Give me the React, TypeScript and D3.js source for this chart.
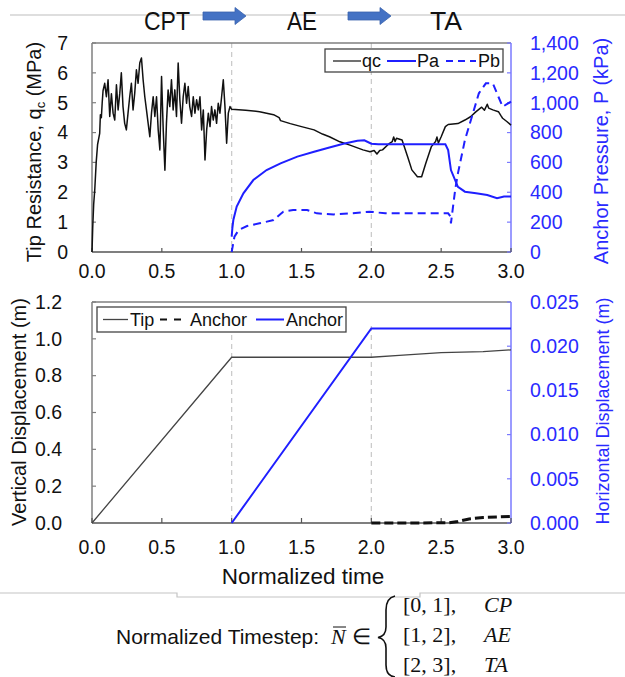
import React from "react";
import * as d3 from "d3";

// ---------- DATA ----------
const qcSeries: [number, number][] = [
  [0, 0], [0.005, 0.8], [0.012, 1.6], [0.02, 2.1], [0.03, 3.0], [0.04, 3.6], [0.055, 3.97], [0.06, 4.6],
  [0.067, 4.5], [0.073, 5.0], [0.079, 5.4], [0.091, 5.65], [0.103, 5.2], [0.115, 5.77], [0.127, 4.54],
  [0.139, 5.3], [0.151, 4.65], [0.163, 4.42], [0.175, 5.6], [0.187, 4.76], [0.199, 5.32], [0.21, 6.0],
  [0.222, 4.87], [0.234, 4.31], [0.246, 4.09], [0.258, 4.65], [0.27, 5.2], [0.282, 5.65], [0.294, 4.76],
  [0.306, 5.32], [0.318, 6.1], [0.33, 5.65], [0.342, 6.33], [0.354, 6.5], [0.366, 5.77], [0.378, 5.2],
  [0.39, 4.76], [0.402, 4.31], [0.414, 3.86], [0.426, 4.65], [0.438, 5.2], [0.45, 4.54], [0.462, 5.2],
  [0.474, 4.09], [0.486, 3.42], [0.498, 5.88], [0.51, 4.09], [0.522, 2.74], [0.533, 4.31], [0.545, 5.43],
  [0.557, 4.87], [0.569, 5.77], [0.581, 4.76], [0.593, 5.43], [0.605, 4.54], [0.617, 6.33], [0.629, 5.1],
  [0.641, 4.31], [0.653, 5.2], [0.665, 5.65], [0.677, 4.98], [0.689, 5.54], [0.7, 4.87], [0.713, 4.54],
  [0.725, 5.2], [0.737, 4.65], [0.749, 5.1], [0.761, 4.76], [0.773, 5.2], [0.785, 4.09], [0.797, 4.76],
  [0.809, 3.08], [0.821, 4.09], [0.833, 4.65], [0.845, 4.2], [0.856, 4.87], [0.868, 4.42], [0.88, 4.76],
  [0.892, 4.31], [0.904, 4.98], [0.916, 4.65], [0.928, 5.2], [0.94, 5.77], [0.952, 4.87], [0.964, 3.64],
  [0.976, 4.65], [0.988, 4.87], [1.0, 4.78], [1.1, 4.75], [1.2, 4.7], [1.3, 4.6], [1.34, 4.5], [1.35, 4.4],
  [1.42, 4.3], [1.5, 4.2], [1.59, 4.09], [1.65, 3.95], [1.7, 3.86], [1.775, 3.69], [1.847, 3.58],
  [1.94, 3.42], [1.99, 3.36], [2.02, 3.4], [2.04, 3.28], [2.06, 3.4], [2.08, 3.42], [2.13, 3.64],
  [2.15, 3.7], [2.16, 3.85], [2.17, 3.7], [2.18, 3.81], [2.22, 3.75], [2.26, 3.19], [2.29, 2.75],
  [2.33, 2.52], [2.36, 2.52], [2.39, 2.97], [2.43, 3.53], [2.46, 3.7], [2.47, 3.85], [2.48, 3.65],
  [2.5, 3.86], [2.53, 4.2], [2.55, 4.27], [2.62, 4.3], [2.67, 4.42], [2.71, 4.53], [2.75, 4.7],
  [2.79, 4.85], [2.81, 4.75], [2.83, 4.95], [2.84, 4.82], [2.87, 4.76], [2.91, 4.7], [2.93, 4.55],
  [2.94, 4.48], [2.97, 4.37], [3.0, 4.25],
];

const paSeries: [number, number][] = [
  [1.0, 103], [1.005, 160], [1.012, 214], [1.036, 304], [1.084, 393], [1.155, 482], [1.25, 549],
  [1.35, 594], [1.47, 639], [1.59, 672], [1.7, 700], [1.8, 725], [1.9, 745], [1.95, 748], [2.0, 725],
  [2.05, 721], [2.53, 721], [2.55, 683], [2.57, 549], [2.6, 482], [2.62, 437], [2.67, 404], [2.75, 393],
  [2.83, 382], [2.9, 360], [2.95, 371], [3.0, 371],
];

const pbSeries: [number, number][] = [
  [1.0, 0], [1.02, 103], [1.05, 147], [1.11, 174], [1.2, 192], [1.3, 214], [1.35, 255], [1.37, 270],
  [1.44, 281], [1.54, 281], [1.61, 259], [1.73, 252], [1.85, 259], [1.99, 270], [2.1, 259], [2.55, 259],
  [2.565, 240], [2.57, 192], [2.6, 415], [2.62, 527], [2.67, 750], [2.72, 906], [2.77, 1063],
  [2.82, 1130], [2.87, 1130], [2.91, 1040], [2.94, 973], [2.97, 990], [3.0, 1007],
];

const tipVertical: [number, number][] = [
  [0, 0], [1, 0.9], [2, 0.9], [2.2, 0.91], [2.5, 0.925], [2.8, 0.93], [3, 0.94],
];
const anchorVertical: [number, number][] = [
  [2, 0], [2.55, 0.001], [2.62, 0.008], [2.7, 0.022], [2.8, 0.03], [3, 0.036],
];
const anchorHorizontal: [number, number][] = [[1, 0], [2, 0.022], [3, 0.022]];

const xTicks = [0, 0.5, 1, 1.5, 2, 2.5, 3];
const qcTicks = [0, 1, 2, 3, 4, 5, 6, 7];
const pTicks = [0, 200, 400, 600, 800, 1000, 1200, 1400];
const vTicks = [0, 0.2, 0.4, 0.6, 0.8, 1.0, 1.2];
const hTicks = [0, 0.005, 0.01, 0.015, 0.02, 0.025];
const phaseMarks = [1, 2];
const stages = ["CPT", "AE", "TA"];
const timestepRows = [
  ["[0, 1],", "CP"],
  ["[1, 2],", "AE"],
  ["[2, 3],", "TA"],
];

// ---------- STYLE ----------
const SANS = "'Liberation Sans', Arial, sans-serif";
const SERIF = "'Liberation Serif', 'Times New Roman', serif";
const BLUE = "#1f1fff";
const BLUE_TXT = "#2a2aff";
const BLUE_AXIS = "#7a7aff";
const FRAME = "#7f7f7f";

export default function App() {
  const L = 92, R = 511;
  const x = d3.scaleLinear().domain([0, 3]).range([L, R]);

  // top panel
  const T1 = 43, B1 = 252;
  const yQc = d3.scaleLinear().domain([0, 7]).range([B1, T1]);
  const yP = d3.scaleLinear().domain([0, 1400]).range([B1, T1]);
  // bottom panel
  const T2 = 302, B2 = 523;
  const yV = d3.scaleLinear().domain([0, 1.2]).range([B2, T2]);
  const yH = d3.scaleLinear().domain([0, 0.025]).range([B2, T2]);

  const lineQc = d3.line<[number, number]>().x((d) => x(d[0])).y((d) => yQc(d[1]));
  const lineP = d3.line<[number, number]>().x((d) => x(d[0])).y((d) => yP(d[1]));
  const lineV = d3.line<[number, number]>().x((d) => x(d[0])).y((d) => yV(d[1]));
  const lineH = d3.line<[number, number]>().x((d) => x(d[0])).y((d) => yH(d[1]));

  const fmt1 = d3.format(".1f");
  const fmtC = d3.format(",");
  const fmt3 = d3.format(".3f");

  const stageX = [167, 302, 446];
  const stageW = [46, 30, 32];
  const arrows = [[203, 246], [348, 391]];
  const arrowPath = (x0: number, x1: number, cy: number) => {
    const bh = 4, hh = 8.5, hl = 11;
    return `M${x0},${cy - bh}L${x1 - hl},${cy - bh}L${x1 - hl},${cy - hh}L${x1},${cy}L${x1 - hl},${cy + hh}L${x1 - hl},${cy + bh}L${x0},${cy + bh}Z`;
  };

  return (
    <svg width={625} height={677} style={{ position: "absolute", left: 0, top: 0, background: "#fff" }}>
      <rect x={0} y={0} width={625} height={677} fill="#fff" />

      {/* header */}
      <line x1={10} x2={625} y1={15} y2={15} stroke="#bdbdbd" strokeWidth={1.2} />
      {stages.map((s, i) => (
        <text key={s} x={stageX[i]} y={30} textAnchor="middle" fontFamily={SANS} fontSize={26}
          fill="#111" textLength={stageW[i]} lengthAdjust="spacingAndGlyphs">{s}</text>
      ))}
      {arrows.map(([a, b], i) => (
        <path key={i} d={arrowPath(a, b, 16)} fill="#4472c4" stroke="#3a63ad" strokeWidth={0.8} />
      ))}

      {/* ===== TOP PANEL ===== */}
      {phaseMarks.map((m) => (
        <line key={"p1" + m} x1={x(m)} x2={x(m)} y1={T1} y2={B1} stroke="#c8c8c8" strokeWidth={1.2} strokeDasharray="5,4" />
      ))}
      <line x1={L} x2={R} y1={T1} y2={T1} stroke={FRAME} strokeWidth={1.5} />
      <line x1={L} x2={L} y1={T1} y2={B1} stroke={FRAME} strokeWidth={1.5} />
      <line x1={L} x2={R} y1={B1} y2={B1} stroke="#555" strokeWidth={1.5} />
      <line x1={R} x2={R} y1={T1} y2={B1} stroke={BLUE_AXIS} strokeWidth={1.5} />
      {qcTicks.map((t) => (
        <g key={"qc" + t}>
          <line x1={L} x2={L + 4} y1={yQc(t)} y2={yQc(t)} stroke={FRAME} strokeWidth={1.2} />
          <text x={68} y={yQc(t)} dy="0.35em" textAnchor="end" fontFamily={SANS} fontSize={19.5} fill="#111">{t}</text>
        </g>
      ))}
      {pTicks.map((t) => (
        <g key={"p" + t}>
          <line x1={R - 4} x2={R} y1={yP(t)} y2={yP(t)} stroke={BLUE_AXIS} strokeWidth={1.2} />
          <text x={530} y={yP(t)} dy="0.35em" textAnchor="start" fontFamily={SANS} fontSize={19.5} fill={BLUE_TXT}>{fmtC(t)}</text>
        </g>
      ))}
      {xTicks.map((t) => (
        <g key={"x1" + t}>
          <line x1={x(t)} x2={x(t)} y1={B1} y2={B1 - 4} stroke="#555" strokeWidth={1.2} />
          <text x={x(t)} y={278} textAnchor="middle" fontFamily={SANS} fontSize={19.5} fill="#111">{fmt1(t)}</text>
        </g>
      ))}
      <path d={lineQc(qcSeries) || ""} fill="none" stroke="#111" strokeWidth={1.5} strokeLinejoin="round" />
      <path d={lineP(paSeries) || ""} fill="none" stroke={BLUE} strokeWidth={2} />
      <path d={lineP(pbSeries) || ""} fill="none" stroke={BLUE} strokeWidth={2} strokeDasharray="8,5" />

      {/* top legend */}
      <rect x={325} y={49} width={178} height={23} fill="#fff" stroke="#444" strokeWidth={1.3} />
      <line x1={333} x2={361} y1={61} y2={61} stroke="#111" strokeWidth={1.2} />
      <text x={362} y={67} fontFamily={SANS} fontSize={18} fill="#111">qc</text>
      <line x1={387} x2={416} y1={61} y2={61} stroke={BLUE} strokeWidth={2} />
      <text x={417} y={67} fontFamily={SANS} fontSize={18} fill="#111">Pa</text>
      <line x1={446} x2={476} y1={61} y2={61} stroke={BLUE} strokeWidth={2} strokeDasharray="7,5" />
      <text x={478} y={67} fontFamily={SANS} fontSize={18} fill="#111">Pb</text>

      {/* top titles */}
      <text transform="translate(41,152) rotate(-90)" textAnchor="middle" fontFamily={SANS} fontSize={20} fill="#111">
        Tip Resistance, q<tspan fontSize={13} dy="4">c</tspan><tspan dy="-4"> (MPa)</tspan>
      </text>
      <text transform="translate(608,151) rotate(-90)" textAnchor="middle" fontFamily={SANS} fontSize={20} fill={BLUE_TXT}>
        Anchor Pressure, P (kPa)
      </text>

      {/* ===== BOTTOM PANEL ===== */}
      {phaseMarks.map((m) => (
        <line key={"p2" + m} x1={x(m)} x2={x(m)} y1={yV(1.07)} y2={B2} stroke="#c8c8c8" strokeWidth={1.2} strokeDasharray="5,4" />
      ))}
      <line x1={L} x2={R} y1={T2} y2={T2} stroke={FRAME} strokeWidth={1.5} />
      <line x1={L} x2={L} y1={T2} y2={B2} stroke={FRAME} strokeWidth={1.5} />
      <line x1={L} x2={R} y1={B2} y2={B2} stroke="#555" strokeWidth={1.5} />
      <line x1={R} x2={R} y1={T2} y2={B2} stroke={BLUE_AXIS} strokeWidth={1.5} />
      {vTicks.map((t) => (
        <g key={"v" + t}>
          <line x1={L} x2={L + 4} y1={yV(t)} y2={yV(t)} stroke={FRAME} strokeWidth={1.2} />
          <text x={62} y={yV(t)} dy="0.35em" textAnchor="end" fontFamily={SANS} fontSize={19.5} fill="#111">{fmt1(t)}</text>
        </g>
      ))}
      {hTicks.map((t) => (
        <g key={"h" + t}>
          <line x1={R - 4} x2={R} y1={yH(t)} y2={yH(t)} stroke={BLUE_AXIS} strokeWidth={1.2} />
          <text x={530} y={yH(t)} dy="0.35em" textAnchor="start" fontFamily={SANS} fontSize={19.5} fill={BLUE_TXT}>{fmt3(t)}</text>
        </g>
      ))}
      {xTicks.map((t) => (
        <g key={"x2" + t}>
          <line x1={x(t)} x2={x(t)} y1={B2} y2={B2 - 5} stroke="#555" strokeWidth={1.2} />
          <text x={x(t)} y={554} textAnchor="middle" fontFamily={SANS} fontSize={19.5} fill="#111">{fmt1(t)}</text>
        </g>
      ))}
      <path d={lineV(tipVertical) || ""} fill="none" stroke="#444" strokeWidth={1.3} />
      <path d={lineH(anchorHorizontal) || ""} fill="none" stroke={BLUE} strokeWidth={2} />
      <path d={lineV(anchorVertical) || ""} fill="none" stroke="#111" strokeWidth={3} strokeDasharray="9,4" />

      {/* bottom legend */}
      <rect x={97} y={307} width={249} height={25} fill="#fff" stroke="#444" strokeWidth={1.3} />
      <line x1={103} x2={128} y1={319.5} y2={319.5} stroke="#444" strokeWidth={1.3} />
      <text x={130} y={326} fontFamily={SANS} fontSize={18} fill="#111">Tip</text>
      <line x1={160} x2={186} y1={319.5} y2={319.5} stroke="#111" strokeWidth={2.2} strokeDasharray="7,7" />
      <text x={190} y={326} fontFamily={SANS} fontSize={18} fill="#111">Anchor</text>
      <line x1={256} x2={284} y1={319.5} y2={319.5} stroke={BLUE} strokeWidth={2} />
      <text x={286} y={326} fontFamily={SANS} fontSize={18} fill="#111">Anchor</text>

      {/* bottom titles */}
      <text transform="translate(26,412) rotate(-90)" textAnchor="middle" fontFamily={SANS} fontSize={20} fill="#111">
        Vertical Displacement (m)
      </text>
      <text transform="translate(609,411) rotate(-90)" textAnchor="middle" fontFamily={SANS} fontSize={18} fill={BLUE_TXT}>
        Horizontal Displacement (m)
      </text>
      <text x={303} y={584} textAnchor="middle" fontFamily={SANS} fontSize={22.5} fill="#111">Normalized time</text>

      {/* separator */}
      <path d="M0,593L177,593L177,597L420,597L420,593L625,593" fill="none" stroke="#c4c4c4" strokeWidth={1.2} />

      {/* timestep formula */}
      <text x={116} y={644} fontFamily={SANS} fontSize={21} fill="#111">Normalized Timestep:</text>
      <text x={331} y={644} fontFamily={SERIF} fontStyle="italic" fontSize={22} fill="#111">N</text>
      <line x1={333} x2={346} y1={627} y2={627} stroke="#111" strokeWidth={1} />
      <text x={352} y={644} fontFamily={SERIF} fontSize={22} fill="#111">∈</text>
      <path d="M395,596 Q386,598 386,610 L386,627 Q386,636 378,637.5 Q386,639 386,648 L386,665 Q386,676 395,677"
        fill="none" stroke="#111" strokeWidth={1.6} />
      {timestepRows.map(([iv, ph], i) => (
        <g key={ph}>
          <text x={403} y={612 + i * 30} fontFamily={SERIF} fontSize={22} fill="#111">{iv}</text>
          <text x={484} y={612 + i * 30} fontFamily={SERIF} fontStyle="italic" fontSize={22} fill="#111">{ph}</text>
        </g>
      ))}
    </svg>
  );
}
